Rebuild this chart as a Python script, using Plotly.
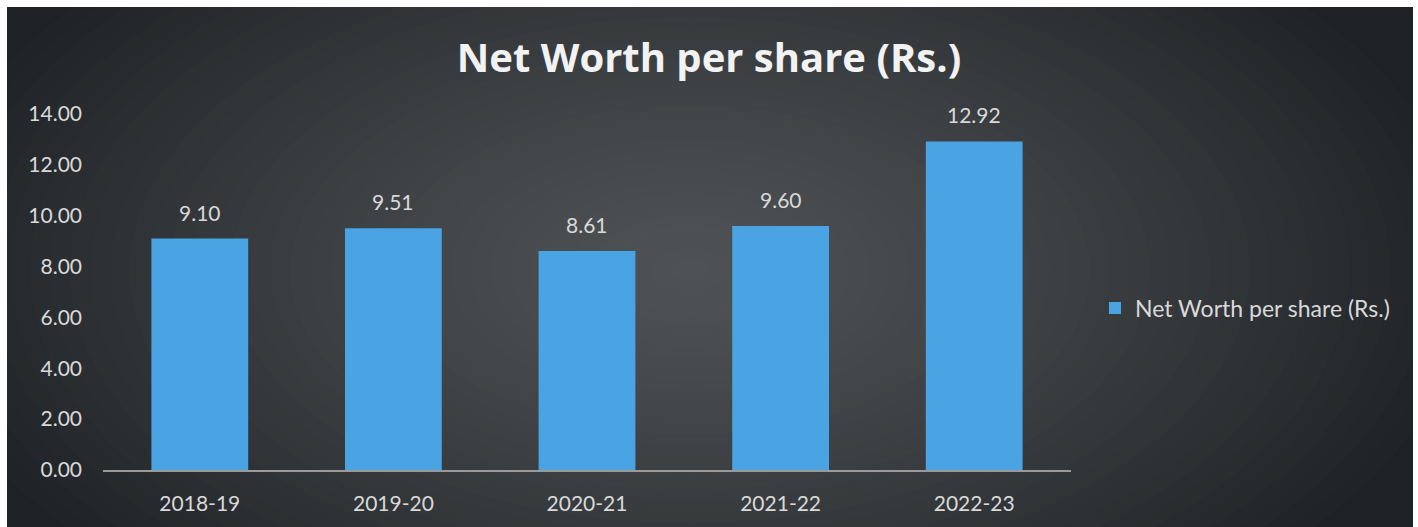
import plotly.graph_objects as go

# Net worth per share by financial year
years = ["2018-19", "2019-20", "2020-21", "2021-22", "2022-23"]
net_worth = [9.10, 9.51, 8.61, 9.60, 12.92]
y_ticks = [0, 2, 4, 6, 8, 10, 12, 14]
y_tick_labels = ["0.00", "2.00", "4.00", "6.00", "8.00", "10.00", "12.00", "14.00"]

W, H = 1418, 527
ML, MR, MT, MB = 103, 347, 114, 57
PW, PH = W - ML - MR, H - MT - MB

FONT = "Lato"
TEXT = "#d9d9d9"
BAR = "#4aa3e2"
EDGE_RGB = (30, 34, 38)
CENTER_RGB = (78, 82, 85)


def px_x(p):
    return (p - ML) / PW


def px_y(p):
    return (H - MB - p) / PH


def rect(x0, y0, x1, y1, color, kind="rect"):
    return dict(type=kind, xref="paper", yref="paper", layer="below",
                x0=px_x(x0), x1=px_x(x1), y0=px_y(y1), y1=px_y(y0),
                fillcolor=color, line=dict(width=0))


def mix(t):
    r, g, b = (round(e + (c - e) * t) for e, c in zip(EDGE_RGB, CENTER_RGB))
    return f"rgb({r},{g},{b})"


# dark panel
shapes = [rect(0, 0, W, H, mix(0))]
# soft radial glow toward the middle of the panel
cx, cy = 690, 270
steps = 40
for i in range(1, steps):
    f = 1 - i / steps
    rx, ry = 800 * f, 440 * f
    t = 1 - f ** 1.3
    shapes.append(rect(cx - rx, cy - ry, cx + rx, cy + ry, mix(t), kind="circle"))
# white frame on the top, left and right edges
shapes += [
    rect(0, 0, W, 7, "#ffffff"),
    rect(0, 0, 7, H, "#ffffff"),
    rect(1413, 0, W, H, "#ffffff"),
]

fig = go.Figure()
fig.add_trace(go.Bar(
    x=years, y=net_worth, name="Net Worth per share (Rs.)",
    marker=dict(color=BAR, line=dict(width=0)),
    width=0.5, hoverinfo="x+y",
))

annotations = [
    dict(x=yr, y=v, text=f"{v:.2f}", showarrow=False, yanchor="bottom",
         yshift=12, font=dict(family=FONT, size=21, color=TEXT))
    for yr, v in zip(years, net_worth)
]

fig.update_layout(
    width=W, height=H,
    margin=dict(l=ML, r=MR, t=MT, b=MB, pad=0),
    paper_bgcolor="#ffffff",
    plot_bgcolor="rgba(0,0,0,0)",
    shapes=shapes,
    annotations=annotations,
    title=dict(text="<b>Net Worth per share (Rs.)</b>", x=709 / W, xanchor="center",
               xref="container", y=1 - 58 / H, yanchor="middle", yref="container",
               font=dict(family="Open Sans", size=40, color="#f2f2f2")),
    showlegend=True,
    legend=dict(x=px_x(1095), xanchor="left", y=px_y(308), yanchor="middle",
                font=dict(family=FONT, size=23, color=TEXT),
                bgcolor="rgba(0,0,0,0)", itemwidth=30),
    xaxis=dict(showgrid=False, zeroline=False, showline=True, linecolor="#9a9a9a",
               linewidth=2, ticks="", ticklabelstandoff=14,
               tickfont=dict(family=FONT, size=21, color=TEXT)),
    yaxis=dict(range=[0, 14], tickvals=y_ticks, ticktext=y_tick_labels,
               showgrid=False, zeroline=False, showline=False, ticks="",
               ticklabelstandoff=20,
               tickfont=dict(family=FONT, size=21, color=TEXT)),
    bargap=0.5,
)

fig.write_html("out.html")
